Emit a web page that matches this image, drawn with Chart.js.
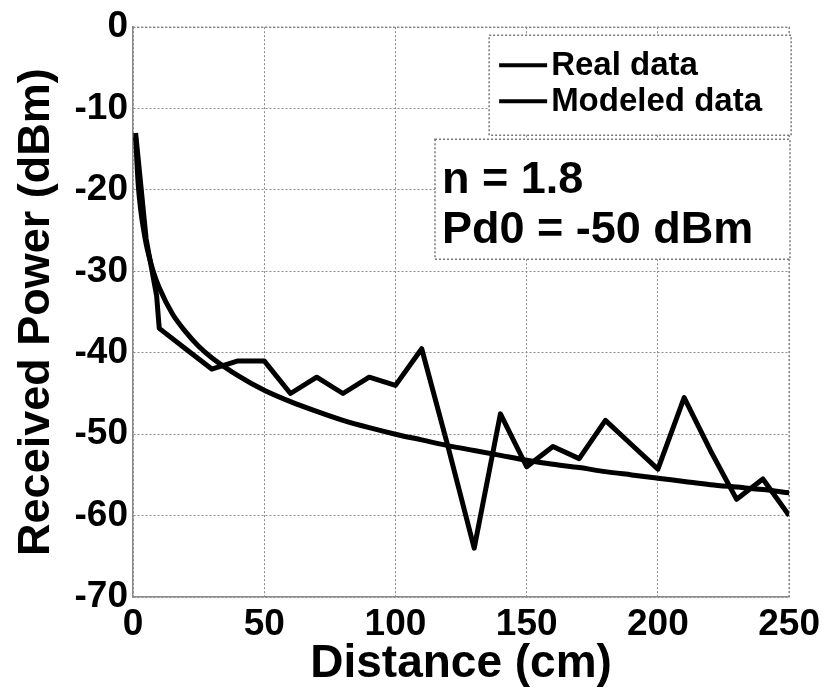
<!DOCTYPE html>
<html>
<head>
<meta charset="utf-8">
<style>
  html, body { margin: 0; padding: 0; background: #fff; }
  #wrap { width: 826px; height: 692px; }
</style>
<script src="https://cdn.jsdelivr.net/npm/chart.js@4.4.1/dist/chart.umd.min.js"></script>
</head>
<body>
<div id="wrap"><canvas id="chart" width="826" height="692"></canvas></div>
<script>
// Measured data (distance in cm, power in dBm)
const realDist  = [1, 5, 9, 10, 20, 30, 40, 50, 60, 70, 80, 90, 100, 110, 120, 130, 140, 150, 160, 170, 180, 190, 200, 210, 220, 230, 240, 250];
const realPower = [-13, -26, -33, -37, -39.5, -42, -41, -41, -45, -43, -45, -43, -44, -39.5, -51.5, -64, -47.5, -54, -51.5, -53, -48.3, -51.3, -54.3, -45.5, -52, -58, -55.5, -60];

// Modeled curve
const modelDist  = [1, 2, 3, 4, 5, 6, 8, 10, 15, 20, 25, 30, 40, 50, 60, 70, 80, 90, 100, 110, 120, 130, 140, 150, 160, 170, 180, 190, 200, 210, 220, 230, 240, 250];
const modelPower = [-13.5, -19.4, -22.6, -24.8, -26.6, -28, -30.3, -32, -35.2, -37.4, -39.2, -40.6, -42.8, -44.6, -46, -47.2, -48.3, -49.2, -50, -50.7, -51.4, -52, -52.6, -53.2, -53.7, -54.1, -54.6, -55, -55.4, -55.8, -56.2, -56.5, -56.8, -57.2];

const xTicks = [0, 50, 100, 150, 200, 250];
const yTicks = [-70, -60, -50, -40, -30, -20, -10, 0];
const seriesLabels = ['Real data', 'Modeled data'];
const noteLines = ['n = 1.8', 'Pd0 = -50 dBm'];

const FONT = '"Liberation Sans", Arial, Helvetica, sans-serif';
const toPoints = (xs, ys) => xs.map((x, i) => ({ x: x, y: ys[i] }));

// legend + parameter box drawn inside the plot, like the original figure
const boxesPlugin = {
  id: 'boxes',
  afterDatasetsDraw(chart) {
    const ctx = chart.ctx;
    const a = chart.chartArea;
    ctx.save();
    ctx.lineWidth = 1.5;
    ctx.strokeStyle = '#777';
    ctx.setLineDash([2, 2]);

    // legend box
    const lx = a.right - 300, ly = a.top + 8, lw = 302, lh = 100;
    ctx.fillStyle = '#fff';
    ctx.fillRect(lx, ly, lw, lh);
    ctx.strokeRect(lx, ly, lw, lh);

    ctx.setLineDash([]);
    ctx.font = 'bold 33px ' + FONT;
    ctx.textBaseline = 'middle';
    chart.data.datasets.forEach((ds, i) => {
      const cy = ly + 30 + i * 36;
      ctx.strokeStyle = ds.borderColor;
      ctx.lineWidth = 4;
      ctx.beginPath();
      ctx.moveTo(lx + 10, cy);
      ctx.lineTo(lx + 58, cy);
      ctx.stroke();
      ctx.fillStyle = '#000';
      ctx.fillText(ds.label, lx + 62, cy + 1);
    });

    // parameter box
    ctx.strokeStyle = '#777';
    ctx.lineWidth = 1.5;
    ctx.setLineDash([2, 2]);
    const bx = a.left + 302, by = a.top + 112, bw = 355, bh = 120;
    ctx.fillStyle = '#fff';
    ctx.fillRect(bx, by, bw, bh);
    ctx.strokeRect(bx, by, bw, bh);
    ctx.setLineDash([]);
    ctx.fillStyle = '#000';
    ctx.font = 'bold 45px ' + FONT;
    ctx.textBaseline = 'alphabetic';
    noteLines.forEach((t, i) => ctx.fillText(t, bx + 7, by + 54 + i * 50));
    ctx.restore();
  }
};

const gridStyle = {
  color: '#8a8a8a',
  lineWidth: 1,
  drawTicks: false
};

new Chart(document.getElementById('chart'), {
  type: 'line',
  data: {
    datasets: [
      {
        label: seriesLabels[0],
        data: toPoints(realDist, realPower),
        borderColor: '#000',
        borderWidth: 5,
        pointRadius: 0,
        tension: 0,
        borderJoinStyle: 'round'
      },
      {
        label: seriesLabels[1],
        data: toPoints(modelDist, modelPower),
        borderColor: '#000',
        borderWidth: 5,
        pointRadius: 0,
        cubicInterpolationMode: 'monotone'
      }
    ]
  },
  options: {
    responsive: false,
    animation: false,
    layout: { padding: { top: 25, right: 0, left: 0, bottom: 0 } },
    plugins: {
      legend: { display: false },
      tooltip: { enabled: false }
    },
    scales: {
      x: {
        type: 'linear',
        min: 0,
        max: 250,
        afterBuildTicks: (s) => { s.ticks = xTicks.map(v => ({ value: v })); },
        afterFit: (s) => { s.height = 95; },
        grid: gridStyle,
        border: { display: true, color: '#8a8a8a', dash: [2, 2], width: 1.5 },
        ticks: {
          color: '#000',
          padding: 6,
          maxRotation: 0,
          font: { family: FONT, size: 37, weight: 'bold' }
        },
        title: {
          display: true,
          text: 'Distance (cm)',
          color: '#000',
          padding: 0,
          font: { family: FONT, size: 46, weight: 'bold' }
        }
      },
      y: {
        min: -70,
        max: 0,
        afterBuildTicks: (s) => { s.ticks = yTicks.map(v => ({ value: v })); },
        afterFit: (s) => { s.width = 133; },
        grid: gridStyle,
        border: { display: true, color: '#8a8a8a', dash: [2, 2], width: 1.5 },
        ticks: {
          color: '#000',
          padding: 5,
          font: { family: FONT, size: 37, weight: 'bold' }
        },
        title: {
          display: true,
          text: 'Received Power (dBm)',
          color: '#000',
          padding: { top: 10, bottom: 0 },
          font: { family: FONT, size: 45, weight: 'bold' }
        }
      }
    }
  },
  plugins: [boxesPlugin, {
    // dotted frame on top and right, like the MATLAB box
    id: 'frame',
    beforeDatasetsDraw(chart) {
      const ctx = chart.ctx, a = chart.chartArea;
      ctx.save();
      ctx.strokeStyle = '#8a8a8a';
      ctx.lineWidth = 1.5;
      ctx.setLineDash([2, 2]);
      ctx.beginPath();
      ctx.moveTo(a.left, a.top); ctx.lineTo(a.right, a.top); ctx.lineTo(a.right, a.bottom);
      ctx.stroke();
      ctx.restore();
    }
  }]
});
</script>
</body>
</html>
